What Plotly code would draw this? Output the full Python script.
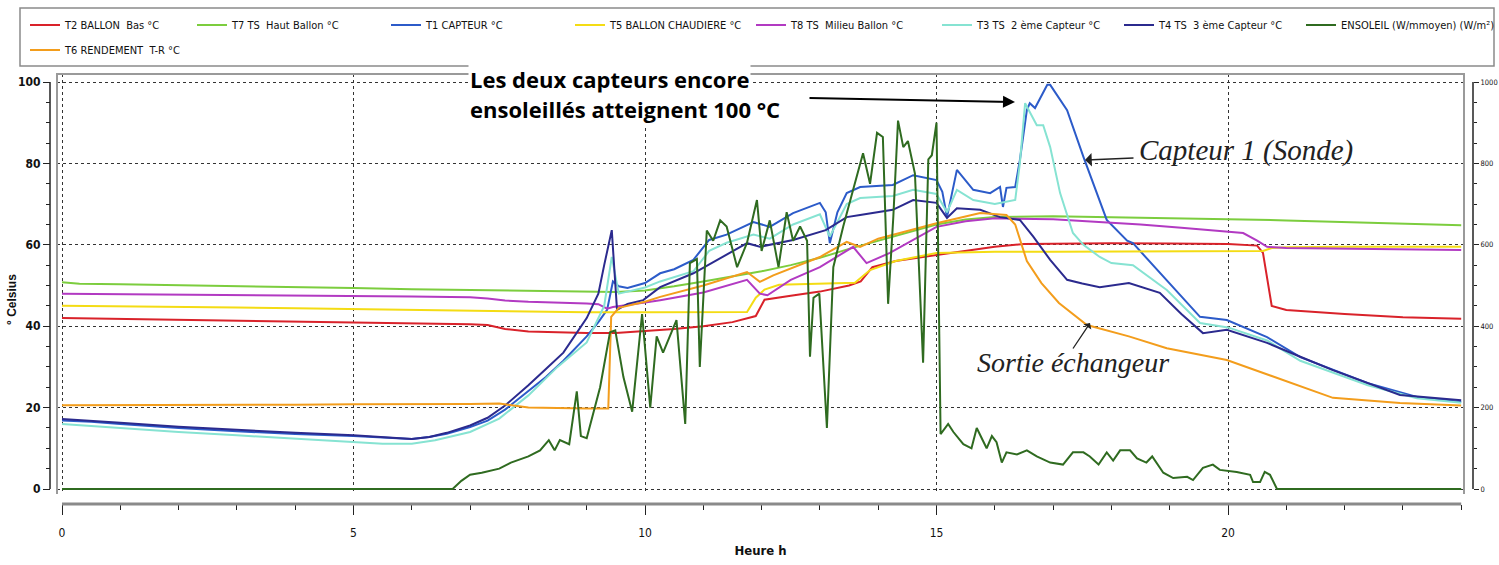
import plotly.graph_objects as go

# ---------------- DATA ----------------
t2_h = [0, 1, 2, 3, 4, 5, 6, 7, 7.3, 7.6, 8, 8.5, 9, 9.5, 10, 10.5, 11, 11.5, 11.9, 12.05,
        12.5, 13, 13.5, 13.7, 13.9, 14.3, 15, 15.5, 16, 16.5, 17, 18, 19, 20, 20.5, 20.6,
        20.75, 21, 22, 23, 24]
t2_v = [42, 41.8, 41.6, 41.4, 41.2, 41, 40.8, 40.5, 40.3, 39.3, 38.7, 38.5, 38.3, 38.3, 38.8,
        39.3, 40, 41, 42.5, 46.5, 47.5, 48.5, 50, 51, 54.5, 56, 57.5, 58.5, 59.5, 60.2, 60.3,
        60.4, 60.3, 60.2, 59.8, 58, 45, 44, 43, 42.2, 41.8]

t7_h = [0, 0.3, 1, 2, 3, 4, 5, 6, 7, 8, 9, 9.5, 10, 10.5, 11, 11.5, 12, 12.5, 13, 13.5, 14,
        14.5, 15, 15.5, 16, 17, 18, 19, 20, 21, 22, 23, 24]
t7_v = [50.8, 50.4, 50.3, 50.1, 49.9, 49.6, 49.4, 49.1, 48.9, 48.7, 48.5, 48.4, 48.8, 49.8,
        51, 52.3, 53.5, 55, 56.8, 59, 61, 63, 65, 66.2, 66.8, 67, 66.8, 66.6, 66.3, 66, 65.6,
        65.2, 64.8]

t1_h = [0, 0.5, 1, 2, 3, 4, 5, 5.5, 6, 6.3, 6.6, 7, 7.3, 7.6, 8, 8.3, 8.6, 9, 9.2, 9.35,
        9.45, 9.55, 9.7, 10, 10.26, 10.5, 10.83, 11.1, 11.4, 11.86, 12.14, 12.54, 13, 13.1,
        13.17, 13.3, 13.46, 13.69, 14.25, 14.6, 15, 15.1, 15.18, 15.35, 15.63, 15.92, 16.09,
        16.14, 16.2, 16.35, 16.43, 16.55, 16.6, 16.69, 16.9, 16.95, 17.24, 17.52, 17.92,
        18.27, 18.37, 18.95, 19.52, 19.98, 20.67, 21.24, 22.4, 23.24, 24]
t1_v = [16.8, 16.5, 16.0, 15.0, 14.2, 13.5, 13.0, 12.6, 12.3, 12.8, 13.6, 15.2, 16.8, 19.5,
        24, 27.5, 31.5, 37.5, 41, 44, 51, 49.8, 49.4, 50.6, 53, 54, 56.3, 61.2, 62.5, 65.6,
        64.4, 67.8, 70.3, 68, 60.4, 68, 72.7, 74.2, 74.7, 77.1, 75.9, 73, 66.8, 78.4, 73.5,
        72.7, 74.2, 69.3, 74, 74.2, 80.8, 93.1, 94.8, 93.6, 99.3, 99.3, 93.1, 81.6, 66.1, 61,
        60.4, 51.4, 42.3, 41.5, 37.3, 32.4, 26, 22.6, 21.4]

t5_h = [0, 1, 2, 3, 4, 5, 6, 7, 7.3, 8, 9, 10, 11, 11.75, 11.9, 12.05, 12.3, 13, 13.6, 13.86,
        14.3, 15, 15.5, 16, 17, 18, 19, 20, 20.6, 20.75, 21, 22, 23, 24]
t5_v = [45, 44.9, 44.8, 44.6, 44.4, 44.2, 44, 43.8, 43.6, 43.5, 43.4, 43.4, 43.4, 43.5, 47,
        49, 50.2, 50.5, 50.7, 53.8, 56, 58, 58.2, 58.3, 58.3, 58.4, 58.4, 58.5, 58.5, 59.2,
        59.4, 59.5, 59.5, 59.5]

t8_h = [0, 1, 2, 3, 4, 5, 6, 7, 7.3, 7.6, 8, 9, 9.2, 9.35, 9.45, 10, 10.26, 11, 11.75, 11.97,
        12.1, 12.5, 13, 13.57, 13.8, 14.2, 15, 15.5, 16, 17, 17.8, 18.5, 19.2, 19.7, 20.26,
        20.5, 20.67, 21, 22, 23, 24]
t8_v = [48, 47.9, 47.8, 47.7, 47.6, 47.5, 47.3, 47.1, 46.8, 46.3, 46, 45.6, 45.4, 44.3, 44.7,
        45.8, 46.4, 48.3, 51.4, 48, 47.6, 51.4, 54.5, 59.5, 55.5, 58, 64.4, 65.8, 66.5, 66.3,
        65.6, 65, 64.2, 63.6, 62.9, 61, 59.5, 59.2, 59, 58.8, 58.7]

t3_h = [0, 1, 2, 3, 4, 5, 5.5, 6, 6.4, 7, 7.5, 8, 8.5, 9, 9.3, 9.43, 9.55, 9.7, 10, 10.26,
        10.83, 11.1, 11.4, 11.86, 12.14, 12.54, 13, 13.17, 13.46, 13.69, 14.25, 14.6, 15,
        15.18, 15.35, 15.63, 16, 16.35, 16.43, 16.52, 16.72, 16.83, 16.95, 17.12, 17.34,
        17.52, 17.8, 18.0, 18.37, 18.95, 19.52, 20, 20.67, 21.24, 22.4, 23.24, 24]
t3_v = [16, 15, 14, 13.2, 12.3, 11.4, 11.1, 11.1, 12, 14, 17.3, 23, 30, 36, 45, 57, 48, 48.5,
        49.5, 51, 53.5, 58.5, 60.5, 62.5, 61.5, 65, 67.5, 62, 70, 71.5, 72, 73.5, 72.5, 68,
        73.5, 71, 70, 71, 80, 94.8, 89.4, 89.4, 84, 72.7, 62.9, 60, 57, 55.5, 55, 48.9, 40.8,
        39.7, 36.5, 31.5, 25.5, 22.3, 21.2]

t4_h = [0, 0.5, 1, 2, 3, 4, 5, 5.5, 6, 6.3, 6.6, 7, 7.3, 7.6, 8, 8.3, 8.6, 9, 9.2, 9.3, 9.43,
        9.52, 9.7, 9.97, 10.26, 10.83, 11.2, 11.75, 11.97, 12.54, 13.1, 13.46, 13.69, 14.25,
        14.6, 15, 15.18, 15.35, 15.75, 16.09, 16.43, 16.66, 16.95, 17.24, 17.5, 17.8, 18.3,
        18.83, 19.2, 19.57, 19.98, 20.67, 21.24, 21.8, 22.95, 24]
t4_v = [17.2, 16.8, 16.3, 15.3, 14.5, 13.8, 13.2, 12.8, 12.3, 12.8, 13.8, 15.6, 17.5, 20.5,
        25.5, 29.5, 33.5, 42, 48, 55, 63.6, 44, 45.5, 46.4, 49.6, 53, 56, 60.4, 59.5, 61.2,
        63.6, 66.8, 67.3, 68.6, 71, 70.3, 66.6, 69, 68.6, 66.8, 66.1, 62, 56.3, 51.4, 50.5,
        49.6, 50.6, 48.2, 43, 38.3, 39.1, 35.9, 32.5, 29.2, 23.1, 21.8]

sun_h = [0, 6.7, 6.85, 7.0, 7.2, 7.5, 7.7, 8.0, 8.2, 8.35, 8.45, 8.54, 8.7, 8.83, 8.9, 9.0,
         9.23, 9.4, 9.49, 9.63, 9.78, 9.95, 10.09, 10.2, 10.31, 10.54, 10.69, 10.77, 10.89,
         10.94, 11.06, 11.17, 11.29, 11.4, 11.58, 11.75, 11.92, 12.0, 12.14, 12.29, 12.43,
         12.54, 12.66, 12.78, 12.83, 12.89, 12.99, 13.12, 13.23, 13.4, 13.57, 13.74, 13.86,
         13.98, 14.08, 14.17, 14.26, 14.34, 14.43, 14.51, 14.63, 14.77, 14.86, 14.92, 15.0,
         15.07, 15.2, 15.29, 15.46, 15.6, 15.69, 15.86, 15.95, 16.03, 16.12, 16.2, 16.38,
         16.55, 16.72, 16.95, 17.17, 17.34, 17.52, 17.63, 17.78, 17.92, 18.03, 18.15, 18.32,
         18.44, 18.6, 18.7, 18.89, 19.06, 19.3, 19.4, 19.57, 19.74, 19.86, 20.15, 20.38,
         20.43, 20.55, 20.63, 20.72, 20.84, 24]
sun_v = [0, 0, 20, 35, 40, 50, 65, 80, 95, 120, 95, 120, 110, 240, 130, 125, 250, 385, 390,
         275, 190, 430, 200, 375, 335, 415, 160, 555, 565, 300, 635, 610, 660, 645, 545, 605,
         710, 585, 660, 545, 680, 610, 645, 610, 325, 470, 480, 150, 545, 645, 735, 825, 750,
         875, 865, 455, 670, 905, 840, 855, 775, 310, 810, 820, 900, 135, 160, 140, 110, 100,
         150, 100, 130, 115, 65, 90, 85, 95, 80, 65, 60, 90, 90, 80, 60, 90, 70, 95, 95, 75,
         65, 80, 40, 27, 30, 22, 52, 60, 47, 42, 35, 17, 17, 42, 35, 0, 0]

t6_h = [0, 1, 2, 3, 4, 5, 6, 7, 7.5, 7.8, 8, 9, 9.37, 9.42, 9.55, 10, 10.26, 11, 11.75, 11.97,
        12.2, 13, 13.46, 13.69, 14, 15, 15.75, 16.2, 16.35, 16.55, 16.8, 17.1, 17.58, 18.3,
        18.95, 19.98, 20.94, 21.8, 22.95, 24]
t6_v = [20.6, 20.6, 20.7, 20.7, 20.7, 20.8, 20.8, 20.9, 21.0, 20.5, 20, 19.8, 19.8, 42.3,
        44.5, 46, 47.2, 50, 53.3, 50.9, 52.5, 57, 60.7, 59.5, 61.5, 65.3, 67.8, 67.3, 65, 56,
        50.6, 45.7, 40.3, 37.5, 34.6, 31.7, 26.8, 22.4, 21.1, 20.5]

names = ["T2 BALLON  Bas °C", "T7 TS  Haut Ballon °C", "T1 CAPTEUR °C",
         "T5 BALLON CHAUDIERE °C", "T8 TS  Milieu Ballon °C", "T3 TS  2 ème Capteur °C",
         "T4 TS  3 ème Capteur °C", "ENSOLEIL (W/mmoyen) (W/m²)", "T6 RENDEMENT  T-R °C"]
colors = ["#d9222a", "#7ccd3e", "#2c5bc9", "#f4dc14", "#b23ac2", "#86e3d2",
          "#2b2a8e", "#2f6b20", "#f39d1c"]
series = [(t2_h, t2_v, "y"), (t7_h, t7_v, "y"), (t1_h, t1_v, "y"), (t5_h, t5_v, "y"),
          (t8_h, t8_v, "y"), (t3_h, t3_v, "y"), (t4_h, t4_v, "y"), (sun_h, sun_v, "y2"),
          (t6_h, t6_v, "y")]

# ---------------- LAYOUT GEOMETRY ----------------
W, H = 1499, 565
ML, MR, MT, MB = 50, 26, 74, 61
PW = W - ML - MR
PH = H - MT - MB


def px_x(px):
    return (px - ML) / PW


def px_y(py):
    return (H - MB - py) / PH


NARROW = "Liberation Sans Narrow, Arial Narrow, DejaVu Sans Condensed, sans-serif"

fig = go.Figure()
legend_text_px = [(65, 25), (232, 25), (426, 25), (610, 25), (791, 25), (977, 25),
                  (1159, 25), (1341, 25), (65, 50)]
for i, ((hx, vy, ax), nm, col) in enumerate(zip(series, names, colors)):
    lg = "legend" if i == 0 else f"legend{i + 1}"
    fig.add_trace(go.Scatter(x=hx, y=vy, yaxis=ax, mode="lines", name=nm,
                             line=dict(color=col, width=2), legend=lg))

legends = {}
for i, (tx, ty) in enumerate(legend_text_px):
    lg = "legend" if i == 0 else f"legend{i + 1}"
    legends[lg] = dict(x=px_x(tx - 40), y=px_y(ty), xanchor="left", yanchor="middle",
                       orientation="h", bgcolor="rgba(0,0,0,0)", borderwidth=0,
                       itemwidth=30, font=dict(family=NARROW, size=11, color="#111"))
fig.update_layout(**legends)

X0, X1 = -5 / 58.3, (1464 - 62) / 58.3
Y0, Y1 = -5 / 4.07, (489 - 74) / 4.07

fig.update_layout(
    width=W, height=H, margin=dict(l=ML, r=MR, t=MT, b=MB, autoexpand=False),
    paper_bgcolor="white", plot_bgcolor="white", showlegend=True,
    xaxis=dict(domain=[px_x(57), px_x(1464)], range=[X0, X1], anchor="free", position=0,
               tickvals=[0, 5, 10, 15, 20], ticks="outside", ticklen=10, tickcolor="#222",
               showline=False, zeroline=False, showgrid=True, gridcolor="#333",
               griddash="dot", gridwidth=1, ticklabelstandoff=8,
               tickfont=dict(family=NARROW, size=12, color="#111"),
               minor=dict(dtick=1, tick0=0, ticks="outside", ticklen=5, tickcolor="#222",
                          showgrid=False),
               title=dict(text="Heure h", standoff=6,
                          font=dict(family=NARROW, size=13, color="#111", weight="bold"))),
    yaxis=dict(domain=[px_y(494), 1], range=[Y0, Y1], anchor="free", position=0,
               tickvals=[0, 20, 40, 60, 80, 100], ticks="outside", ticklen=7,
               tickcolor="#222", showline=False, zeroline=False, showgrid=True,
               gridcolor="#333", griddash="dot", gridwidth=1,
               tickfont=dict(family=NARROW, size=12, color="#111", weight="bold"),
               minor=dict(dtick=5, tick0=0, ticks="outside", ticklen=4, tickcolor="#222",
                          showgrid=False)),
    yaxis2=dict(overlaying="y", side="right", anchor="free", position=1,
                range=[Y0 * 10, Y1 * 10], tickvals=[0, 200, 400, 600, 800, 1000],
                ticks="outside", ticklen=5, tickcolor="#222", showline=False,
                zeroline=False, showgrid=False, ticklabelstandoff=0,
                tickfont=dict(family=NARROW, size=7.5, color="#111"),
                minor=dict(dtick=50, tick0=0, ticks="outside", ticklen=3, tickcolor="#222")),
)

shapes = [
    # legend frame
    dict(type="rect", xref="paper", yref="paper", x0=px_x(20), x1=px_x(1494),
         y0=px_y(66), y1=px_y(8), line=dict(color="#8a8a8a", width=1.5)),
    # plot frame (top, left, right)
    dict(type="path", xref="paper", yref="paper",
         path=f"M{px_x(57)},{px_y(494)} L{px_x(57)},{px_y(74)} L{px_x(1464)},{px_y(74)} "
              f"L{px_x(1464)},{px_y(494)}",
         line=dict(color="#9a9a9a", width=2)),
    # left / right axis lines
    dict(type="line", xref="paper", yref="y", x0=0, x1=0, y0=0, y1=100,
         line=dict(color="#222", width=1.5)),
    dict(type="line", xref="paper", yref="y", x0=1, x1=1, y0=0, y1=100,
         line=dict(color="#222", width=1.5)),
    # x axis bar
    dict(type="line", xref="x", yref="paper", x0=0, x1=24, y0=0, y1=0,
         line=dict(color="#8a8a8a", width=3)),
]
fig.update_layout(shapes=shapes)

ann = [
    dict(text="Les deux capteurs encore", x=px_x(468), y=px_y(79), xref="paper",
         yref="paper", xanchor="left", yanchor="middle", showarrow=False,
         bgcolor="white", font=dict(family="Open Sans", size=22, color="black",
                                    weight="bold")),
    dict(text="ensoleillés atteignent 100 °C", x=px_x(468), y=px_y(109), xref="paper",
         yref="paper", xanchor="left", yanchor="middle", showarrow=False,
         bgcolor="white", font=dict(family="Open Sans", size=22, color="black",
                                    weight="bold")),
    dict(text="", x=(1015 - 62) / 58.3, y=(489 - 102) / 4.07, xref="x", yref="y",
         ax=-207, ay=-4, showarrow=True, arrowhead=2, arrowsize=1.2, arrowwidth=2,
         arrowcolor="black"),
    dict(text="Capteur 1 (Sonde)", x=px_x(1137), y=px_y(150), xref="paper", yref="paper",
         xanchor="left", yanchor="middle", showarrow=False,
         font=dict(family="Liberation Serif", size=29, color="#222", style="italic")),
    dict(text="", x=(1085 - 62) / 58.3, y=(489 - 160) / 4.07, xref="x", yref="y",
         ax=50, ay=-2, showarrow=True, arrowhead=1, arrowsize=1.5, arrowwidth=1.5,
         arrowcolor="#222"),
    dict(text="Sortie échangeur", x=px_x(975), y=px_y(362), xref="paper", yref="paper",
         xanchor="left", yanchor="middle", showarrow=False,
         font=dict(family="Liberation Serif", size=28, color="#222", style="italic")),
    dict(text="", x=(1090 - 62) / 58.3, y=(489 - 323) / 4.07, xref="x", yref="y",
         ax=-18, ay=27, showarrow=True, arrowhead=1, arrowsize=1.2, arrowwidth=1.3,
         arrowcolor="#222"),
    dict(text="° Celsius", x=px_x(12), y=px_y(300), xref="paper", yref="paper",
         textangle=-90, showarrow=False, xanchor="center", yanchor="middle",
         font=dict(family="Liberation Sans, Arial, sans-serif", size=12, color="#111",
                   weight="bold")),
]
fig.update_layout(annotations=ann)

fig.write_html("out.html", config={"displayModeBar": False},
               post_script="document.body.style.margin='0';"
                           "document.body.style.overflow='hidden';")
